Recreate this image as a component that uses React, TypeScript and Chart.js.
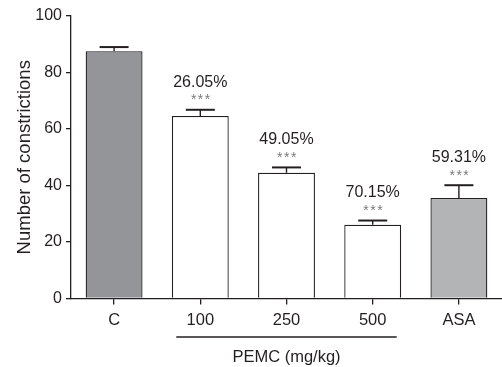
import React, { useEffect, useRef } from "react";
import { Chart, registerables } from "chart.js";

Chart.register(...registerables);

const categories = ["C", "100", "250", "500", "ASA"];
const means = [87.5, 64.6, 44.5, 26.1, 35.6];
const sems = [1.5, 2.2, 1.9, 1.5, 4.5];
const inhibitionLabels = ["", "26.05%", "49.05%", "70.15%", "59.31%"];
const significance = ["", "***", "***", "***", "***"];
const barColors = ["#939598", "#ffffff", "#ffffff", "#ffffff", "#b3b4b6"];
const yTickValues = [0, 20, 40, 60, 80, 100];
const yTitle = "Number of constrictions";
const groupLabel = "PEMC (mg/kg)";
const groupFrom = "100";
const groupTo = "500";

const FONT = "'Liberation Sans', Arial, Helvetica, sans-serif";
const INK = "#231f20";

export default function App() {
  const ref = useRef<HTMLCanvasElement | null>(null);

  useEffect(() => {
    if (!ref.current) return;
    const annotate = {
      id: "annotate",
      afterDatasetsDraw(chart: any) {
        const ctx = chart.ctx;
        const xs = chart.scales.x;
        const ys = chart.scales.y;
        ctx.save();
        means.forEach((m, i) => {
          const x = xs.getPixelForValue(i);
          const yb = ys.getPixelForValue(m);
          const ye = ys.getPixelForValue(m + sems[i]);
          ctx.strokeStyle = INK;
          ctx.lineWidth = 1.4;
          ctx.beginPath();
          ctx.moveTo(x, yb);
          ctx.lineTo(x, ye);
          ctx.stroke();
          ctx.lineWidth = 2;
          ctx.beginPath();
          ctx.moveTo(x - 14.5, ye);
          ctx.lineTo(x + 14.5, ye);
          ctx.stroke();
          ctx.textAlign = "center";
          ctx.textBaseline = "middle";
          if (significance[i]) {
            ctx.fillStyle = "#7a7a7a";
            ctx.font = `14px ${FONT}`;
            (ctx as any).letterSpacing = "1.5px";
            ctx.fillText(significance[i], x + 1, ye - 9.5);
            (ctx as any).letterSpacing = "0px";
          }
          if (inhibitionLabels[i]) {
            ctx.fillStyle = INK;
            ctx.font = `16px ${FONT}`;
            ctx.fillText(inhibitionLabels[i], x, ye - 27.5);
          }
        });
        // group bracket
        const x1 = xs.getPixelForValue(categories.indexOf(groupFrom)) - 24;
        const x2 = xs.getPixelForValue(categories.indexOf(groupTo)) + 24;
        const yl = ys.bottom + 38.5;
        ctx.strokeStyle = INK;
        ctx.lineWidth = 1.3;
        ctx.beginPath();
        ctx.moveTo(x1, yl);
        ctx.lineTo(x2, yl);
        ctx.stroke();
        ctx.fillStyle = INK;
        ctx.font = `16.5px ${FONT}`;
        ctx.textAlign = "center";
        ctx.textBaseline = "middle";
        ctx.fillText(groupLabel, (x1 + x2) / 2, yl + 20);
        ctx.restore();
      },
    };

    const chart = new Chart(ref.current, {
      type: "bar",
      data: {
        labels: categories,
        datasets: [
          {
            data: means,
            backgroundColor: barColors,
            borderColor: INK,
            borderWidth: 1.3,
            barPercentage: 0.66,
            categoryPercentage: 1,
          },
        ],
      },
      options: {
        responsive: false,
        animation: false,
        layout: { padding: { top: 16, right: 0, left: 14, bottom: 0 } },
        plugins: { legend: { display: false }, tooltip: { enabled: false } },
        scales: {
          x: {
            offset: true,
            grid: {
              offset: false,
              drawOnChartArea: false,
              drawTicks: true,
              tickLength: 6,
              color: INK,
              lineWidth: 1.3,
            },
            border: { display: true, color: INK, width: 1.3 },
            ticks: { color: INK, font: { family: FONT, size: 16.5 }, padding: 6 },
            afterFit(scale: any) {
              scale.height = 68.5;
            },
          },
          y: {
            min: 0,
            max: 100,
            afterBuildTicks(scale: any) {
              scale.ticks = yTickValues.map((v) => ({ value: v }));
            },
            grid: {
              drawOnChartArea: false,
              drawTicks: true,
              tickLength: 5,
              color: INK,
              lineWidth: 1.3,
            },
            border: { display: true, color: INK, width: 1.3 },
            ticks: { color: INK, font: { family: FONT, size: 16 }, padding: 4 },
            title: {
              display: true,
              text: yTitle,
              color: INK,
              font: { family: FONT, size: 18.5 },
              padding: { top: 0, bottom: 4 },
            },
            afterFit(scale: any) {
              scale.width = 57;
            },
          },
        },
      },
      plugins: [annotate],
    });
    return () => chart.destroy();
  }, []);

  return (
    <div style={{ position: "fixed", left: 0, top: 0, width: 502, height: 367, background: "#fff" }}>
      <canvas ref={ref} width={502} height={367} style={{ display: "block" }} />
    </div>
  );
}
